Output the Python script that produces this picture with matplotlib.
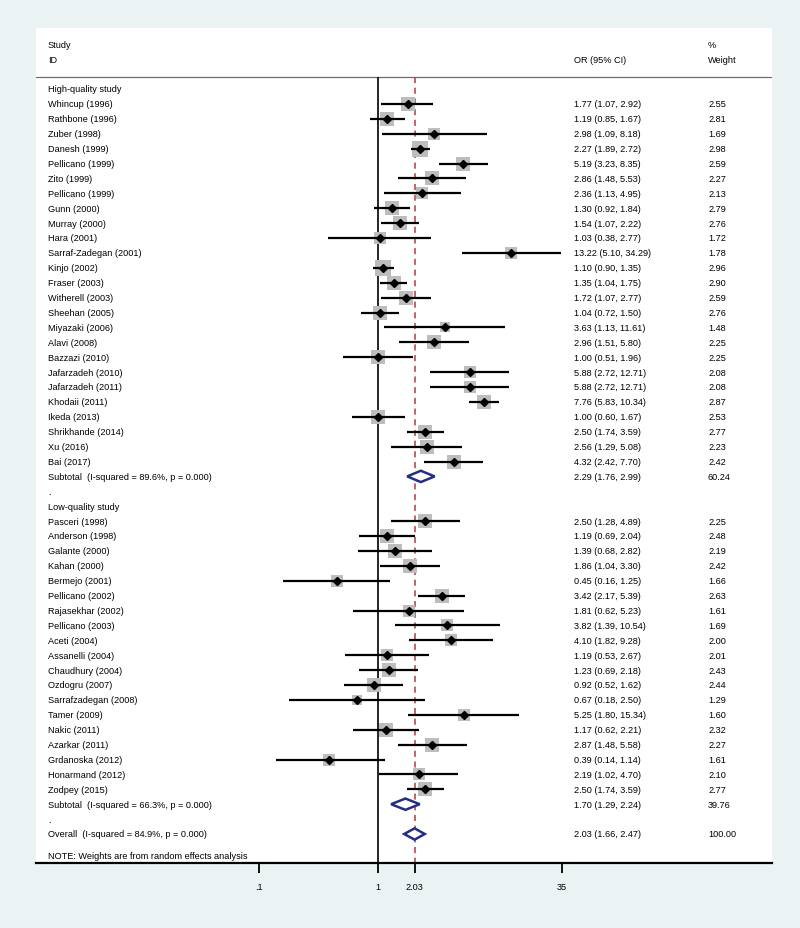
import matplotlib.pyplot as plt
import matplotlib.transforms as mtransforms
from matplotlib.patches import Polygon
from matplotlib.ticker import NullLocator
import numpy as np

plt.rcParams['font.family'] = ['Liberation Sans', 'DejaVu Sans']

# High-quality studies
hq_names = ['Whincup (1996)', 'Rathbone (1996)', 'Zuber (1998)', 'Danesh (1999)',
            'Pellicano (1999)', 'Zito (1999)', 'Pellicano (1999)', 'Gunn (2000)',
            'Murray (2000)', 'Hara (2001)', 'Sarraf-Zadegan (2001)', 'Kinjo (2002)',
            'Fraser (2003)', 'Witherell (2003)', 'Sheehan (2005)', 'Miyazaki (2006)',
            'Alavi (2008)', 'Bazzazi (2010)', 'Jafarzadeh (2010)', 'Jafarzadeh (2011)',
            'Khodaii (2011)', 'Ikeda (2013)', 'Shrikhande (2014)', 'Xu (2016)', 'Bai (2017)']
hq_or = [1.77, 1.19, 2.98, 2.27, 5.19, 2.86, 2.36, 1.30, 1.54, 1.03, 13.22, 1.10, 1.35,
         1.72, 1.04, 3.63, 2.96, 1.00, 5.88, 5.88, 7.76, 1.00, 2.50, 2.56, 4.32]
hq_lo = [1.07, 0.85, 1.09, 1.89, 3.23, 1.48, 1.13, 0.92, 1.07, 0.38, 5.10, 0.90, 1.04,
         1.07, 0.72, 1.13, 1.51, 0.51, 2.72, 2.72, 5.83, 0.60, 1.74, 1.29, 2.42]
hq_hi = [2.92, 1.67, 8.18, 2.72, 8.35, 5.53, 4.95, 1.84, 2.22, 2.77, 34.29, 1.35, 1.75,
         2.77, 1.50, 11.61, 5.80, 1.96, 12.71, 12.71, 10.34, 1.67, 3.59, 5.08, 7.70]
hq_w = [2.55, 2.81, 1.69, 2.98, 2.59, 2.27, 2.13, 2.79, 2.76, 1.72, 1.78, 2.96, 2.90,
        2.59, 2.76, 1.48, 2.25, 2.25, 2.08, 2.08, 2.87, 2.53, 2.77, 2.23, 2.42]
hq_sub = (2.29, 1.76, 2.99, 60.24, 'Subtotal  (I-squared = 89.6%, p = 0.000)')

# Low-quality studies
lq_names = ['Pasceri (1998)', 'Anderson (1998)', 'Galante (2000)', 'Kahan (2000)',
            'Bermejo (2001)', 'Pellicano (2002)', 'Rajasekhar (2002)', 'Pellicano (2003)',
            'Aceti (2004)', 'Assanelli (2004)', 'Chaudhury (2004)', 'Ozdogru (2007)',
            'Sarrafzadegan (2008)', 'Tamer (2009)', 'Nakic (2011)', 'Azarkar (2011)',
            'Grdanoska (2012)', 'Honarmand (2012)', 'Zodpey (2015)']
lq_or = [2.50, 1.19, 1.39, 1.86, 0.45, 3.42, 1.81, 3.82, 4.10, 1.19, 1.23, 0.92, 0.67,
         5.25, 1.17, 2.87, 0.39, 2.19, 2.50]
lq_lo = [1.28, 0.69, 0.68, 1.04, 0.16, 2.17, 0.62, 1.39, 1.82, 0.53, 0.69, 0.52, 0.18,
         1.80, 0.62, 1.48, 0.14, 1.02, 1.74]
lq_hi = [4.89, 2.04, 2.82, 3.30, 1.25, 5.39, 5.23, 10.54, 9.28, 2.67, 2.18, 1.62, 2.50,
         15.34, 2.21, 5.58, 1.14, 4.70, 3.59]
lq_w = [2.25, 2.48, 2.19, 2.42, 1.66, 2.63, 1.61, 1.69, 2.00, 2.01, 2.43, 2.44, 1.29,
        1.60, 2.32, 2.27, 1.61, 2.10, 2.77]
lq_sub = (1.70, 1.29, 2.24, 39.76, 'Subtotal  (I-squared = 66.3%, p = 0.000)')

overall = (2.03, 1.66, 2.47, 100.00, 'Overall  (I-squared = 84.9%, p = 0.000)')

xticks = [0.1, 1, 2.03, 35]
xtick_labels = ['.1', '1', '2.03', '35']

bg = '#eaf2f3'
navy = '#232d86'
red = '#b23a3a'
fs = 6.6

# row r sits at pixel 90 + 14.9 * r
row_px = 14.9
y_top, y_bot = -4.1, 51.95
fig = plt.figure(figsize=(8, 9.29), dpi=100, facecolor=bg)
ax_bottom_px = 90 + row_px * y_bot
ax_top_px = 90 + row_px * y_top
ax = fig.add_axes([36 / 800, 1 - ax_bottom_px / 929, 736 / 800,
                   (ax_bottom_px - ax_top_px) / 929])
ax.set_facecolor('white')
ax.set_xscale('log')
ax.set_xlim(10 ** ((36 - 378) / 119), 10 ** ((772 - 378) / 119))
ax.set_ylim(y_bot, y_top)
for s in ['left', 'right', 'top']:
    ax.spines[s].set_visible(False)
ax.spines['bottom'].set_linewidth(1.6)
ax.set_yticks([])
ax.set_xticks(xticks)
ax.set_xticklabels(xtick_labels, fontsize=fs)
ax.xaxis.set_minor_locator(NullLocator())
ax.tick_params(axis='x', direction='out', length=7, width=1.3, pad=7)

trans = mtransforms.blended_transform_factory(fig.transFigure, ax.transData)
x_name, x_ci, x_w = 48 / 800, 574 / 800, 708 / 800

# header
ax.text(x_name, -3.0, 'Study', transform=trans, fontsize=fs, va='center')
ax.text(x_name, -2.0, 'ID', transform=trans, fontsize=fs, va='center')
ax.text(x_ci, -2.0, 'OR (95% CI)', transform=trans, fontsize=fs, va='center')
ax.text(x_w, -3.0, '%', transform=trans, fontsize=fs, va='center')
ax.text(x_w, -2.0, 'Weight', transform=trans, fontsize=fs, va='center')
hdr = -0.8
ax.axhline(hdr, color='#6e6e6e', lw=0.9)

ax.vlines(1, hdr, y_bot, colors='black', lw=1.2, zorder=2)
ax.vlines(overall[0], hdr, y_bot, colors=red, lw=1.1, linestyles=(0, (4, 3)), zorder=2)


def draw_study(r, name, est, lo, hi, w):
    side = 8.8 * np.sqrt(w) * 0.72
    ax.scatter([est], [r], marker='s', s=side ** 2, color='#bdbdbd', linewidths=0, zorder=3)
    ax.plot([lo, hi], [r, r], color='black', lw=1.6, solid_capstyle='butt', zorder=4)
    ax.plot([est], [r], marker='D', color='black', markersize=4.2, zorder=5)
    ax.text(x_name, r, name, transform=trans, fontsize=fs, va='center')
    ax.text(x_ci, r, f'{est:.2f} ({lo:.2f}, {hi:.2f})', transform=trans, fontsize=fs, va='center')
    ax.text(x_w, r, f'{w:.2f}', transform=trans, fontsize=fs, va='center')


def draw_pooled(r, vals):
    est, lo, hi, w, label = vals
    h = 0.38
    ax.add_patch(Polygon([(lo, r), (est, r - h), (hi, r), (est, r + h)], closed=True,
                         facecolor='white', edgecolor=navy, lw=1.8, zorder=4))
    ax.text(x_name, r, label, transform=trans, fontsize=fs, va='center')
    ax.text(x_ci, r, f'{est:.2f} ({lo:.2f}, {hi:.2f})', transform=trans, fontsize=fs, va='center')
    ax.text(x_w, r, f'{w:.2f}', transform=trans, fontsize=fs, va='center')


r = 0
ax.text(x_name, r, 'High-quality study', transform=trans, fontsize=fs, va='center')
for i in range(len(hq_names)):
    r += 1
    draw_study(r, hq_names[i], hq_or[i], hq_lo[i], hq_hi[i], hq_w[i])
r += 1
draw_pooled(r, hq_sub)
r += 1
ax.text(x_name, r, '.', transform=trans, fontsize=fs, va='center')
r += 1
ax.text(x_name, r, 'Low-quality study', transform=trans, fontsize=fs, va='center')
for i in range(len(lq_names)):
    r += 1
    draw_study(r, lq_names[i], lq_or[i], lq_lo[i], lq_hi[i], lq_w[i])
r += 1
draw_pooled(r, lq_sub)
r += 1
ax.text(x_name, r, '.', transform=trans, fontsize=fs, va='center')
r += 1
draw_pooled(r, overall)
ax.text(x_name, r + 1.45, 'NOTE: Weights are from random effects analysis', transform=trans,
        fontsize=fs, va='center')

fig.savefig('out.png', dpi=100, facecolor=bg)
plt.close(fig)
